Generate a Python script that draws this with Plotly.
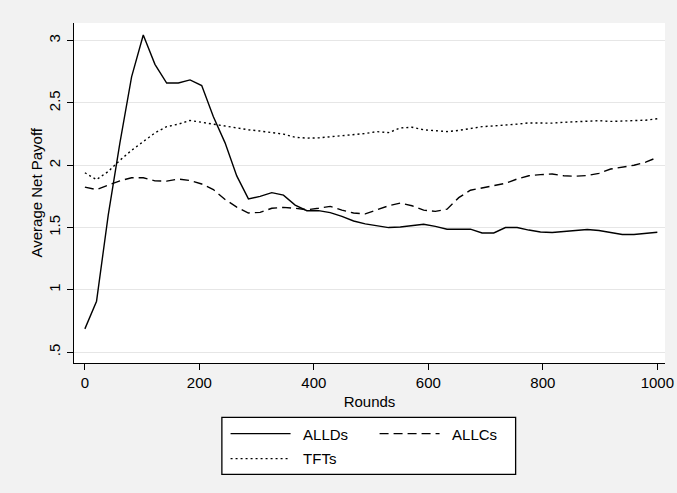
import plotly.graph_objects as go

# ---- data ----
rounds = [0, 20.4, 40.8, 61.2, 81.6, 102.0, 122.4, 142.9, 163.3, 183.7,
          204.1, 224.5, 244.9, 265.3, 285.7, 306.1, 326.5, 346.9, 367.3, 387.8,
          408.2, 428.6, 449.0, 469.4, 489.8, 510.2, 530.6, 551.0, 571.4, 591.8,
          612.2, 632.7, 653.1, 673.5, 693.9, 714.3, 734.7, 755.1, 775.5, 795.9,
          816.3, 836.7, 857.1, 877.6, 898.0, 918.4, 938.8, 959.2, 979.6, 1000.0]

allds = [0.687, 0.909, 1.60, 2.18, 2.71, 3.046, 2.81, 2.66, 2.66, 2.685,
         2.64, 2.39, 2.18, 1.915, 1.73, 1.75, 1.78, 1.76, 1.68, 1.635,
         1.636, 1.62, 1.59, 1.553, 1.53, 1.513, 1.50, 1.505, 1.515, 1.527,
         1.51, 1.487, 1.487, 1.487, 1.457, 1.457, 1.50, 1.50, 1.48, 1.465,
         1.46, 1.468, 1.476, 1.484, 1.476, 1.46, 1.444, 1.444, 1.453, 1.462]

allcs = [1.825, 1.805, 1.84, 1.875, 1.90, 1.90, 1.875, 1.873, 1.89, 1.878,
         1.85, 1.805, 1.725, 1.665, 1.617, 1.622, 1.655, 1.662, 1.655, 1.643,
         1.655, 1.67, 1.64, 1.617, 1.61, 1.64, 1.675, 1.697, 1.675, 1.64,
         1.63, 1.648, 1.74, 1.80, 1.82, 1.84, 1.855, 1.89, 1.916, 1.925,
         1.93, 1.916, 1.912, 1.918, 1.935, 1.97, 1.985, 2.00, 2.025, 2.063]

tfts = [1.94, 1.885, 1.95, 2.04, 2.12, 2.19, 2.26, 2.31, 2.33, 2.36,
        2.345, 2.325, 2.315, 2.30, 2.285, 2.275, 2.265, 2.25, 2.225, 2.218,
        2.22, 2.228, 2.236, 2.245, 2.255, 2.27, 2.262, 2.30, 2.305, 2.285,
        2.28, 2.27, 2.28, 2.295, 2.31, 2.316, 2.32, 2.33, 2.34, 2.34,
        2.338, 2.345, 2.35, 2.355, 2.358, 2.352, 2.354, 2.356, 2.362, 2.373]

x_ticks = [0, 200, 400, 600, 800, 1000]
y_ticks = [0.5, 1, 1.5, 2, 2.5, 3]
y_tick_labels = [".5", "1", "1.5", "2", "2.5", "3"]
series_names = ["ALLDs", "ALLCs", "TFTs"]
x_title = "Rounds"
y_title = "Average Net Payoff"

FONT = "Liberation Sans, Arial, Helvetica, sans-serif"
BG = "#f2f2f2"
PAD = "\u2002"  # small gap between legend key and its label

fig = go.Figure()
fig.add_trace(go.Scatter(x=rounds, y=allds, mode="lines", name=PAD + series_names[0],
                         line=dict(color="black", width=1.4), legend="legend"))
fig.add_trace(go.Scatter(x=rounds, y=allcs, mode="lines", name=PAD + series_names[1],
                         line=dict(color="black", width=1.4, dash="9px,5px"), legend="legend"))
fig.add_trace(go.Scatter(x=rounds, y=tfts, mode="lines", name=PAD + series_names[2],
                         line=dict(color="black", width=1.4, dash="2px,3px"), legend="legend2"))

W, H = 677, 493
ml, mr, mt, mb = 74, 11.5, 23, 129.5
pw = W - ml - mr
ph = H - mt - mb

def px_x(px):
    return (px - ml) / pw

def px_y(py):
    return (H - mb - py) / ph

leg_common = dict(orientation="h", xanchor="left", yanchor="top",
                  bgcolor="rgba(0,0,0,0)", borderwidth=0, itemwidth=60,
                  entrywidth=74,
                  font=dict(family=FONT, size=15, color="black"),
                  itemclick=False, itemdoubleclick=False)

fig.update_layout(
    width=W, height=H,
    margin=dict(l=ml, r=mr, t=mt, b=mb, autoexpand=False),
    paper_bgcolor=BG, plot_bgcolor="white",
    font=dict(family=FONT, size=15, color="black"),
    showlegend=True,
    hovermode=False,
    legend=dict(x=px_x(225.7), y=px_y(418), **leg_common),
    legend2=dict(x=px_x(225.7), y=px_y(443), **leg_common),
    shapes=[dict(type="rect", xref="paper", yref="paper",
                 x0=px_x(222), x1=px_x(516), y0=px_y(475), y1=px_y(418),
                 fillcolor="white", line=dict(color="black", width=1.3),
                 layer="below")],
    annotations=[dict(text=y_title, xref="paper", yref="paper",
                      x=px_x(35.5), y=0.5, xanchor="center", yanchor="middle",
                      textangle=-90, showarrow=False,
                      font=dict(family=FONT, size=15, color="black"))],
)

fig.update_xaxes(range=[-19, 1013.4], tickvals=x_ticks,
                 ticks="outside", ticklen=6, tickwidth=1, tickcolor="black",
                 showline=True, linecolor="black", linewidth=1.3, mirror=False,
                 showgrid=False, zeroline=False,
                 tickfont=dict(family=FONT, size=15, color="black"),
                 title=dict(text=x_title, standoff=6,
                            font=dict(family=FONT, size=15, color="black")))
fig.update_yaxes(range=[0.413, 3.142], tickvals=y_ticks, ticktext=y_tick_labels,
                 tickangle=-90, ticklabelstandoff=1,
                 ticks="outside", ticklen=6, tickwidth=1, tickcolor="black",
                 showline=True, linecolor="black", linewidth=1.3, mirror=False,
                 showgrid=True, gridcolor="#e6e6e6", gridwidth=1, zeroline=False,
                 tickfont=dict(family=FONT, size=15, color="black"))

fig.write_html("out.html", config={"displayModeBar": False},
               post_script="document.body.style.margin='0';")
